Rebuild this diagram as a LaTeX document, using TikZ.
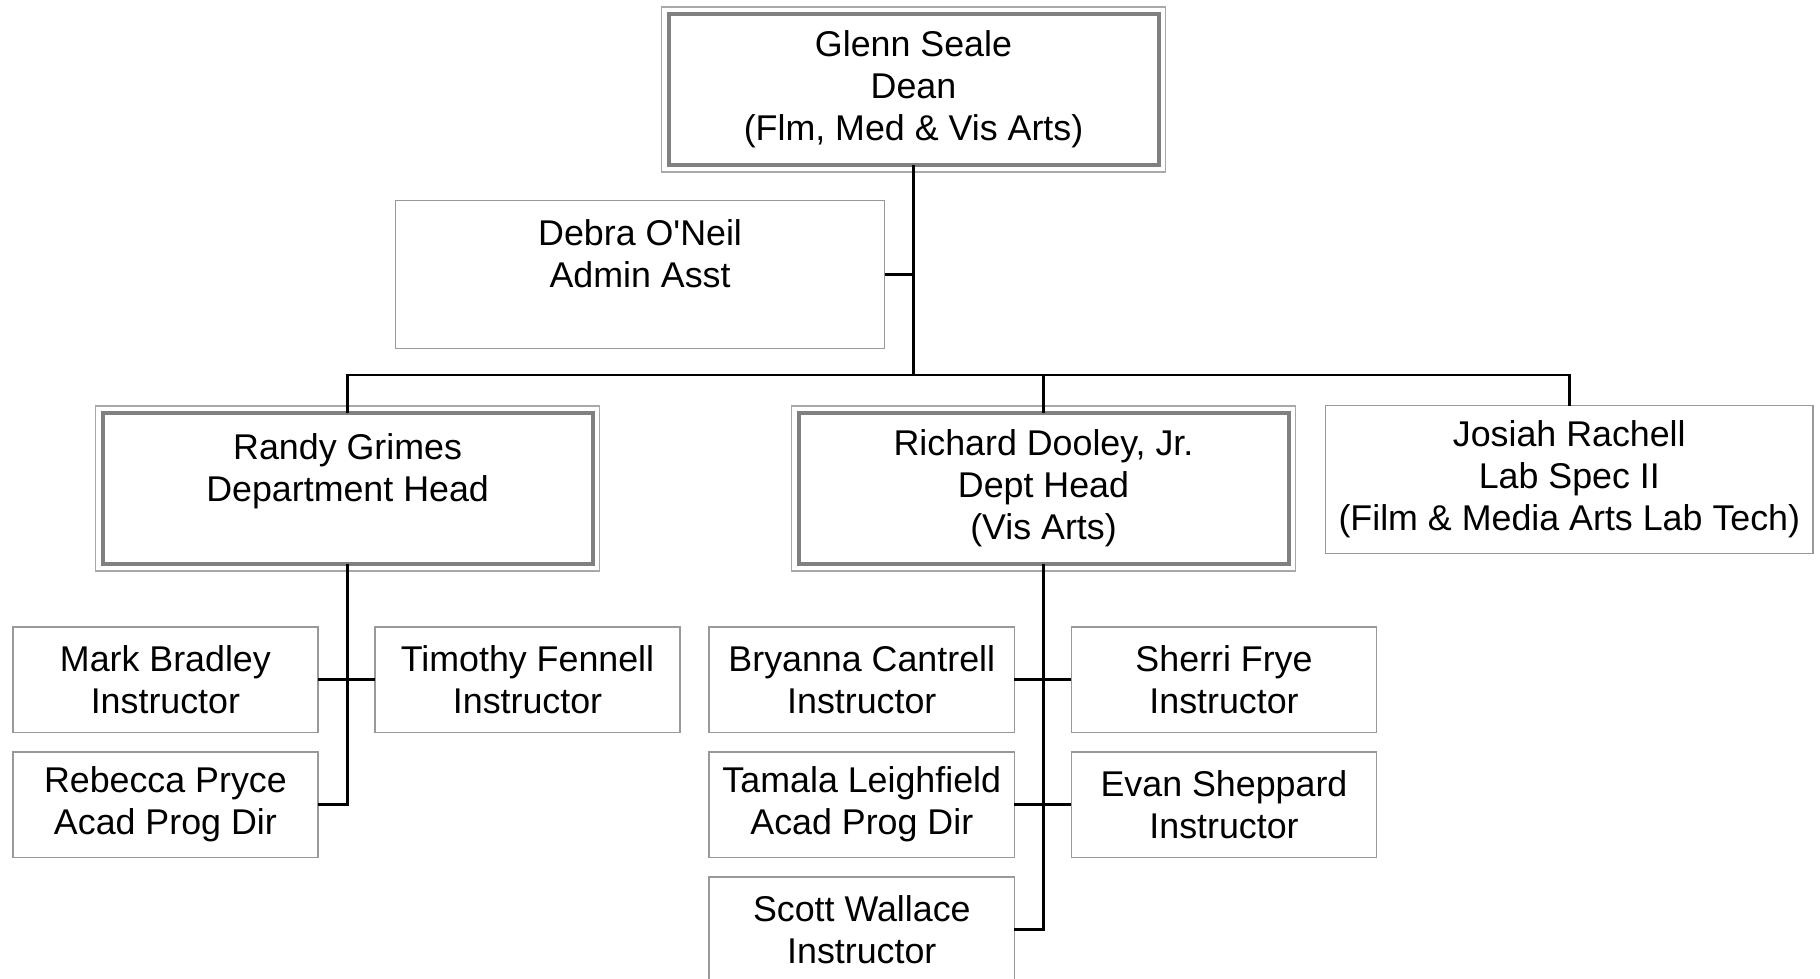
\documentclass[tikz,border=0pt]{standalone}
\usepackage{fontspec}
\setmainfont{Liberation Sans}
\usepackage{tikz}
\usetikzlibrary{positioning,calc}
\definecolor{headgray}{gray}{0.5}
\definecolor{rimgray}{gray}{0.66}
\definecolor{boxgray}{gray}{0.6}
\tikzset{
    box/.style={draw=boxgray, line width=0.75pt, inner sep=0pt, outer sep=0pt, align=center,
        font=\fontsize{17.9pt}{20.9pt}\selectfont},
    bigbox/.style={box, minimum width=244.5pt, minimum height=74pt},
    headbox/.style={box, draw=headgray, line width=2pt, minimum width=245pt, minimum height=75.5pt},
    smallbox/.style={box, minimum width=152.6pt, minimum height=52.8pt},
    link/.style={draw=black, line width=1.2pt},
}

\begin{document}
\begin{tikzpicture}[x=0.5pt,y=-0.5pt]
        \useasboundingbox (0,0) rectangle (1820,979);
        \node[headbox] (dean) at (913.5,89.5) {Glenn Seale\\Dean\\(Flm, Med \& Vis Arts)};
        \node[bigbox] (debra) at (640.1,274.4) {Debra O\textquotesingle Neil\\Admin Asst\\\mbox{}};
        \node[headbox] (randy) at (347.6,488.5) {Randy Grimes\\Department Head\\\mbox{}};
        \node[headbox] (richard) at (1043.5,488.5) {Richard Dooley, Jr.\\Dept Head\\(Vis Arts)};
        \node[bigbox, minimum width=243.8pt] (josiah) at (1569.3,479.5) {Josiah Rachell\\Lab Spec II\\(Film \& Media Arts Lab Tech)};
        % staff under Randy
        \node[smallbox] (mark) at (165.4,679.6) {Mark Bradley\\Instructor};
        \node[smallbox] (timothy) at (527.5,679.6) {Timothy Fennell\\Instructor};
        \node[smallbox] (rebecca) at (165.4,804.6) {Rebecca Pryce\\Acad Prog Dir};
        % staff under Richard
        \node[smallbox] (bryanna) at (861.8,679.6) {Bryanna Cantrell\\Instructor};
        \node[smallbox] (sherri) at (1224,679.6) {Sherri Frye\\Instructor};
        \node[smallbox] (tamala) at (861.8,804.6) {Tamala Leighfield\\Acad Prog Dir};
        \node[smallbox] (evan) at (1224,804.6) {Evan Sheppard\\Instructor};
        \node[smallbox] (scott) at (861.8,929.6) {Scott Wallace\\Instructor};
        %% outer rim of the head boxes
        \foreach \n in {dean,randy,richard}
            \draw[rimgray, line width=0.75pt] ([shift={(-3.5pt,3.5pt)}]\n.north west) rectangle ([shift={(3.5pt,-3.5pt)}]\n.south east);
        \coordinate (bus) at (913.5,374.9);
        \draw[link] (dean.south) -- (bus);
        \draw[link] (debra.east) -- (debra.east -| dean.south);
        \draw[link] (randy.north) |- (bus) -| (josiah.north);
        \draw[link] (bus -| richard.north) -- (richard.north);
        \draw[link] (randy.south) |- (rebecca.east);
        \draw[link] (mark.east) -- (timothy.west);
        \draw[link] (richard.south) |- (scott.east);
        \draw[link] (bryanna.east) -- (sherri.west);
        \draw[link] (tamala.east) -- (evan.west);
    \end{tikzpicture}
\end{document}
